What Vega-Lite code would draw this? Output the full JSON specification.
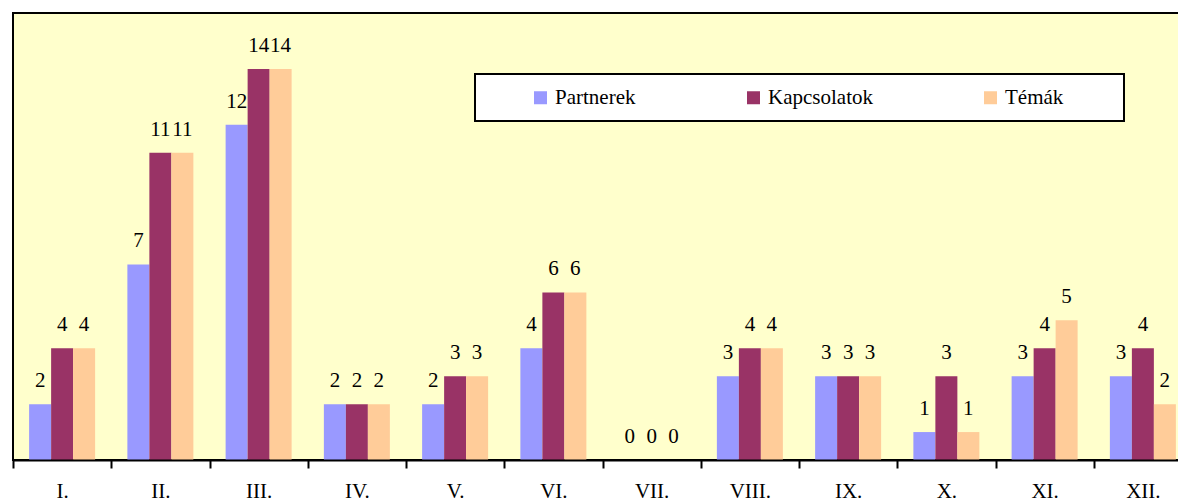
{
  "$schema": "https://vega.github.io/schema/vega-lite/v6.json",
  "width": 1179,
  "height": 447,
  "autosize": {"type": "none"},
  "padding": {"left": 13, "top": 13, "right": 0, "bottom": 41},
  "background": "white",
  "config": {
    "view": {"fill": "#FFFFCC", "stroke": "black", "strokeWidth": 2},
    "font": "Liberation Serif"
  },
  "data": {
    "values": [
      {"honap": "I.", "sorozat": "Partnerek", "ertek": 2},
      {"honap": "I.", "sorozat": "Kapcsolatok", "ertek": 4},
      {"honap": "I.", "sorozat": "Témák", "ertek": 4},
      {"honap": "II.", "sorozat": "Partnerek", "ertek": 7},
      {"honap": "II.", "sorozat": "Kapcsolatok", "ertek": 11},
      {"honap": "II.", "sorozat": "Témák", "ertek": 11},
      {"honap": "III.", "sorozat": "Partnerek", "ertek": 12},
      {"honap": "III.", "sorozat": "Kapcsolatok", "ertek": 14},
      {"honap": "III.", "sorozat": "Témák", "ertek": 14},
      {"honap": "IV.", "sorozat": "Partnerek", "ertek": 2},
      {"honap": "IV.", "sorozat": "Kapcsolatok", "ertek": 2},
      {"honap": "IV.", "sorozat": "Témák", "ertek": 2},
      {"honap": "V.", "sorozat": "Partnerek", "ertek": 2},
      {"honap": "V.", "sorozat": "Kapcsolatok", "ertek": 3},
      {"honap": "V.", "sorozat": "Témák", "ertek": 3},
      {"honap": "VI.", "sorozat": "Partnerek", "ertek": 4},
      {"honap": "VI.", "sorozat": "Kapcsolatok", "ertek": 6},
      {"honap": "VI.", "sorozat": "Témák", "ertek": 6},
      {"honap": "VII.", "sorozat": "Partnerek", "ertek": 0},
      {"honap": "VII.", "sorozat": "Kapcsolatok", "ertek": 0},
      {"honap": "VII.", "sorozat": "Témák", "ertek": 0},
      {"honap": "VIII.", "sorozat": "Partnerek", "ertek": 3},
      {"honap": "VIII.", "sorozat": "Kapcsolatok", "ertek": 4},
      {"honap": "VIII.", "sorozat": "Témák", "ertek": 4},
      {"honap": "IX.", "sorozat": "Partnerek", "ertek": 3},
      {"honap": "IX.", "sorozat": "Kapcsolatok", "ertek": 3},
      {"honap": "IX.", "sorozat": "Témák", "ertek": 3},
      {"honap": "X.", "sorozat": "Partnerek", "ertek": 1},
      {"honap": "X.", "sorozat": "Kapcsolatok", "ertek": 3},
      {"honap": "X.", "sorozat": "Témák", "ertek": 1},
      {"honap": "XI.", "sorozat": "Partnerek", "ertek": 3},
      {"honap": "XI.", "sorozat": "Kapcsolatok", "ertek": 4},
      {"honap": "XI.", "sorozat": "Témák", "ertek": 5},
      {"honap": "XII.", "sorozat": "Partnerek", "ertek": 3},
      {"honap": "XII.", "sorozat": "Kapcsolatok", "ertek": 4},
      {"honap": "XII.", "sorozat": "Témák", "ertek": 2}
    ]
  },
  "encoding": {
    "x": {
      "field": "honap",
      "type": "nominal",
      "sort": ["I.", "II.", "III.", "IV.", "V.", "VI.", "VII.", "VIII.", "IX.", "X.", "XI.", "XII."],
      "scale": {"paddingInner": 0, "paddingOuter": 0},
      "title": null,
      "axis": {
        "tickBand": "extent",
        "labelAngle": 0,
        "domainColor": "black",
        "domainWidth": 2,
        "tickColor": "black",
        "tickWidth": 2,
        "tickSize": 8,
        "labelFont": "Liberation Serif",
        "labelFontSize": 21,
        "labelColor": "black",
        "labelPadding": 12,
        "zindex": 1
      }
    },
    "xOffset": {
      "field": "sorozat",
      "type": "nominal",
      "sort": ["Partnerek", "Kapcsolatok", "Témák"],
      "scale": {"paddingInner": 0, "paddingOuter": 0.733}
    },
    "y": {
      "field": "ertek",
      "type": "quantitative",
      "scale": {"domain": [0, 16], "nice": false},
      "axis": null
    }
  },
  "layer": [
    {
      "mark": {"type": "bar"},
      "encoding": {
        "color": {
          "field": "sorozat",
          "type": "nominal",
          "sort": ["Partnerek", "Kapcsolatok", "Témák"],
          "scale": {
            "domain": ["Partnerek", "Kapcsolatok", "Témák"],
            "range": ["#9999FF", "#993366", "#FFCC99"]
          },
          "legend": {
            "orient": "none",
            "legendX": 462,
            "legendY": 61,
            "direction": "horizontal",
            "columns": 3,
            "columnPadding": 107,
            "padding": 13,
            "fillColor": "white",
            "strokeColor": "black",
            "symbolType": "square",
            "symbolSize": 169,
            "symbolStrokeWidth": 0,
            "symbolOpacity": 1,
            "labelFont": "Liberation Serif",
            "labelFontSize": 21,
            "labelColor": "black",
            "labelOffset": 4,
            "labelExpr": "datum.label == 'Témák' ? 'Témák' + '\u00a0\u00a0\u00a0\u00a0\u00a0\u00a0\u00a0\u00a0\u00a0' + '\u200b' : datum.label",
            "title": " ",
            "titleFontSize": 10,
            "titleOrient": "left",
            "titlePadding": 42,
            "encode": {"legend": {"update": {"strokeWidth": {"value": 2}}}}
          }
        }
      }
    },
    {
      "mark": {
        "type": "text",
        "dy": -17,
        "baseline": "alphabetic",
        "fontSize": 21,
        "font": "Liberation Serif",
        "color": "black"
      },
      "encoding": {
        "text": {"field": "ertek", "type": "quantitative"}
      }
    }
  ]
}
